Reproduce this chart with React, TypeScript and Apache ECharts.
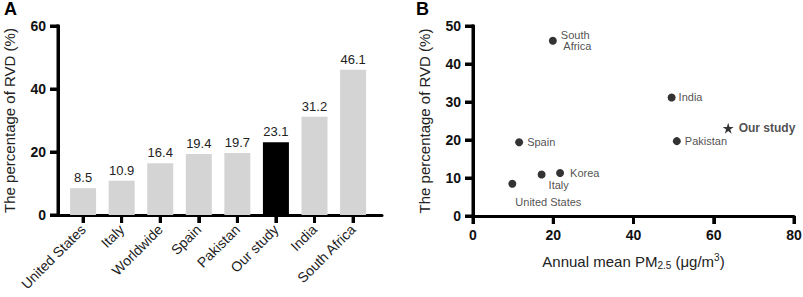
import React, { useEffect, useRef } from "react";
import * as echarts from "echarts";

const categories = ["United States", "Italy", "Worldwide", "Spain", "Pakistan", "Our study", "India", "South Africa"];
const rvdValues = [8.5, 10.9, 16.4, 19.4, 19.7, 23.1, 31.2, 46.1];
const highlightCategory = "Our study";

const scatterNames = ["South Africa", "India", "Our study", "Pakistan", "Spain", "Korea", "Italy", "United States"];
const scatterPM = [19.9, 49.5, 63.6, 50.8, 11.5, 21.7, 17.1, 9.8];
const scatterRVD = [46.1, 31.2, 23.1, 19.7, 19.4, 11.3, 10.9, 8.5];

const barTicks = categories.map((_, i) => i);
const rvdTicksA = [0, 20, 40, 60];
const rvdTicksB = [0, 10, 20, 30, 40, 50];
const pmTicks = [0, 20, 40, 60, 80];

const X_MIN_A = -0.65;
const X_MAX_A = 7.75;

const FONT = "Liberation Sans, Arial, Helvetica, sans-serif";
const STAR = "path://M50,0 L61.2,34.5 L97.6,34.5 L68.2,55.9 L79.4,90.5 L50,69.1 L20.6,90.5 L31.8,55.9 L2.4,34.5 L38.8,34.5 Z";

const labelCfg: Record<string, any> = {
  "South Africa": { text: "South\n Africa", position: "right", distance: 4 },
  India: { text: "India", position: "right", distance: 3 },
  "Our study": { text: "Our study", position: "right", distance: 5, fontWeight: "bold", fontSize: 12 },
  Pakistan: { text: "Pakistan", position: "right", distance: 4 },
  Spain: { text: "Spain", position: "right", distance: 4 },
  Korea: { text: "Korea", position: "right", distance: 6 },
  Italy: { text: "Italy", position: [11, 14] },
  "United States": { text: "United States", position: [7, 22] },
};

const LW = 3;
const TICK = 8;
const mkLine = () => ({ show: true, onZero: false, lineStyle: { color: "#000", width: LW } });
const mkTick = () => ({ show: true, length: TICK, lineStyle: { color: "#000", width: LW } });
const mkValLabel = () => ({ fontSize: 14, fontWeight: "bold", color: "#111", margin: 12, fontFamily: FONT });

export default function App() {
  const ref = useRef<HTMLDivElement>(null);
  useEffect(() => {
    document.body.style.margin = "0";
    const chart = echarts.init(ref.current!, undefined, { renderer: "svg" });
    const option: any = {
      animation: false,
      title: [
        { text: "A", left: 4, top: 0, padding: 0, textStyle: { fontSize: 18, fontWeight: "bold", color: "#000", fontFamily: FONT } },
        { text: "B", left: 416, top: 0, padding: 0, textStyle: { fontSize: 18, fontWeight: "bold", color: "#000", fontFamily: FONT } },
      ],
      grid: [
        { left: 58, top: 26, width: 324, height: 189, containLabel: false, outerBoundsMode: "none" },
        { left: 473, top: 26, width: 321, height: 190, containLabel: false, outerBoundsMode: "none" },
      ],
      xAxis: [
        {
          gridIndex: 0,
          type: "value",
          min: X_MIN_A,
          max: X_MAX_A,
          axisLine: mkLine(),
          axisTick: { ...mkTick(), customValues: barTicks },
          splitLine: { show: false },
          axisLabel: {
            customValues: barTicks,
            rotate: 45,
            margin: 12,
            fontSize: 14,
            color: "#222",
            fontFamily: FONT,
            formatter: (v: number) => categories[Math.round(v)] ?? "",
          },
        },
        {
          gridIndex: 1,
          type: "value",
          min: 0,
          max: 80,
          interval: 20,
          axisLine: mkLine(),
          axisTick: mkTick(),
          splitLine: { show: false },
          axisLabel: mkValLabel(),
          name: "Annual mean PM{sub|2.5} (μg/m{sup|3})",
          nameLocation: "middle",
          nameGap: 36,
          nameTextStyle: {
            fontSize: 15,
            color: "#222",
            fontFamily: FONT,
            rich: {
              sub: { fontSize: 10, verticalAlign: "bottom", padding: [8, 0, 0, 0], fontFamily: FONT, color: "#222" },
              sup: { fontSize: 10, verticalAlign: "top", padding: [0, 0, 8, 0], fontFamily: FONT, color: "#222" },
            },
          },
        },
      ],
      yAxis: [
        {
          gridIndex: 0,
          type: "value",
          min: 0,
          max: 60,
          interval: 20,
          axisLine: mkLine(),
          axisTick: mkTick(),
          splitLine: { show: false },
          axisLabel: mkValLabel(),
          name: "The percentage of RVD (%)",
          nameLocation: "middle",
          nameGap: 41,
          nameTextStyle: { fontSize: 15, color: "#222", fontFamily: FONT },
        },
        {
          gridIndex: 1,
          type: "value",
          min: 0,
          max: 50,
          interval: 10,
          axisLine: mkLine(),
          axisTick: mkTick(),
          splitLine: { show: false },
          axisLabel: mkValLabel(),
          name: "The percentage of RVD (%)",
          nameLocation: "middle",
          nameGap: 41,
          nameTextStyle: { fontSize: 15, color: "#222", fontFamily: FONT },
        },
      ],
      series: [
        {
          type: "bar",
          xAxisIndex: 0,
          yAxisIndex: 0,
          barWidth: 26,
          data: rvdValues.map((v, i) => ({
            value: [i, v],
            itemStyle: { color: categories[i] === highlightCategory ? "#000" : "#d4d4d4" },
          })),
          label: {
            show: true,
            position: "top",
            distance: 4,
            fontSize: 13,
            color: "#222",
            fontFamily: FONT,
            formatter: (p: any) => p.value[1].toFixed(1),
          },
        },
        {
          type: "scatter",
          xAxisIndex: 1,
          yAxisIndex: 1,
          symbolSize: 8,
          itemStyle: { color: "#000" },
          data: scatterNames.map((n, i) => {
            const c = labelCfg[n];
            return {
              name: n,
              value: [scatterPM[i], scatterRVD[i]],
              symbol: n === highlightCategory ? STAR : "circle",
              symbolSize: n === highlightCategory ? 11 : 8,
              label: {
                show: true,
                formatter: c.text,
                position: c.position,
                distance: c.distance ?? 5,
                align: "left",
                verticalAlign: "middle",
                fontSize: c.fontSize ?? 11,
                fontWeight: c.fontWeight ?? "normal",
                color: "#222",
                lineHeight: 11,
                fontFamily: FONT,
              },
            };
          }),
        },
      ],
    };
    chart.setOption(option);

    // Axis line and tick reinforcement, positioned through the chart's own scales.
    const px = (g: number, x: number, y: number) => chart.convertToPixel({ gridIndex: g } as any, [x, y]) as number[];
    const seg = (x1: number, y1: number, x2: number, y2: number) => ({
      type: "line",
      silent: true,
      z: 50,
      shape: { x1, y1, x2, y2 },
      style: { stroke: "#000", lineWidth: LW, lineCap: "butt" },
    });
    const els: any[] = [];
    const axisFor = (g: number, xMin: number, yMin: number, yMax: number, yTicks: number[], xTicks: number[]) => {
      const [x0, yBottom] = px(g, xMin, yMin);
      const [, yTop] = px(g, xMin, yMax);
      els.push(seg(x0, yBottom + LW / 2, x0, yTop - LW / 2));
      yTicks.forEach((t) => {
        const [, yy] = px(g, xMin, t);
        els.push(seg(x0 - TICK, yy, x0, yy));
      });
      xTicks.forEach((t) => {
        const [xx] = px(g, t, yMin);
        els.push(seg(xx, yBottom, xx, yBottom + TICK));
      });
    };
    axisFor(0, X_MIN_A, 0, 60, rvdTicksA, barTicks);
    axisFor(1, 0, 0, 50, rvdTicksB, pmTicks);
    chart.setOption({ graphic: els });

    return () => chart.dispose();
  }, []);
  return <div ref={ref} style={{ width: 803, height: 297 }} />;
}
